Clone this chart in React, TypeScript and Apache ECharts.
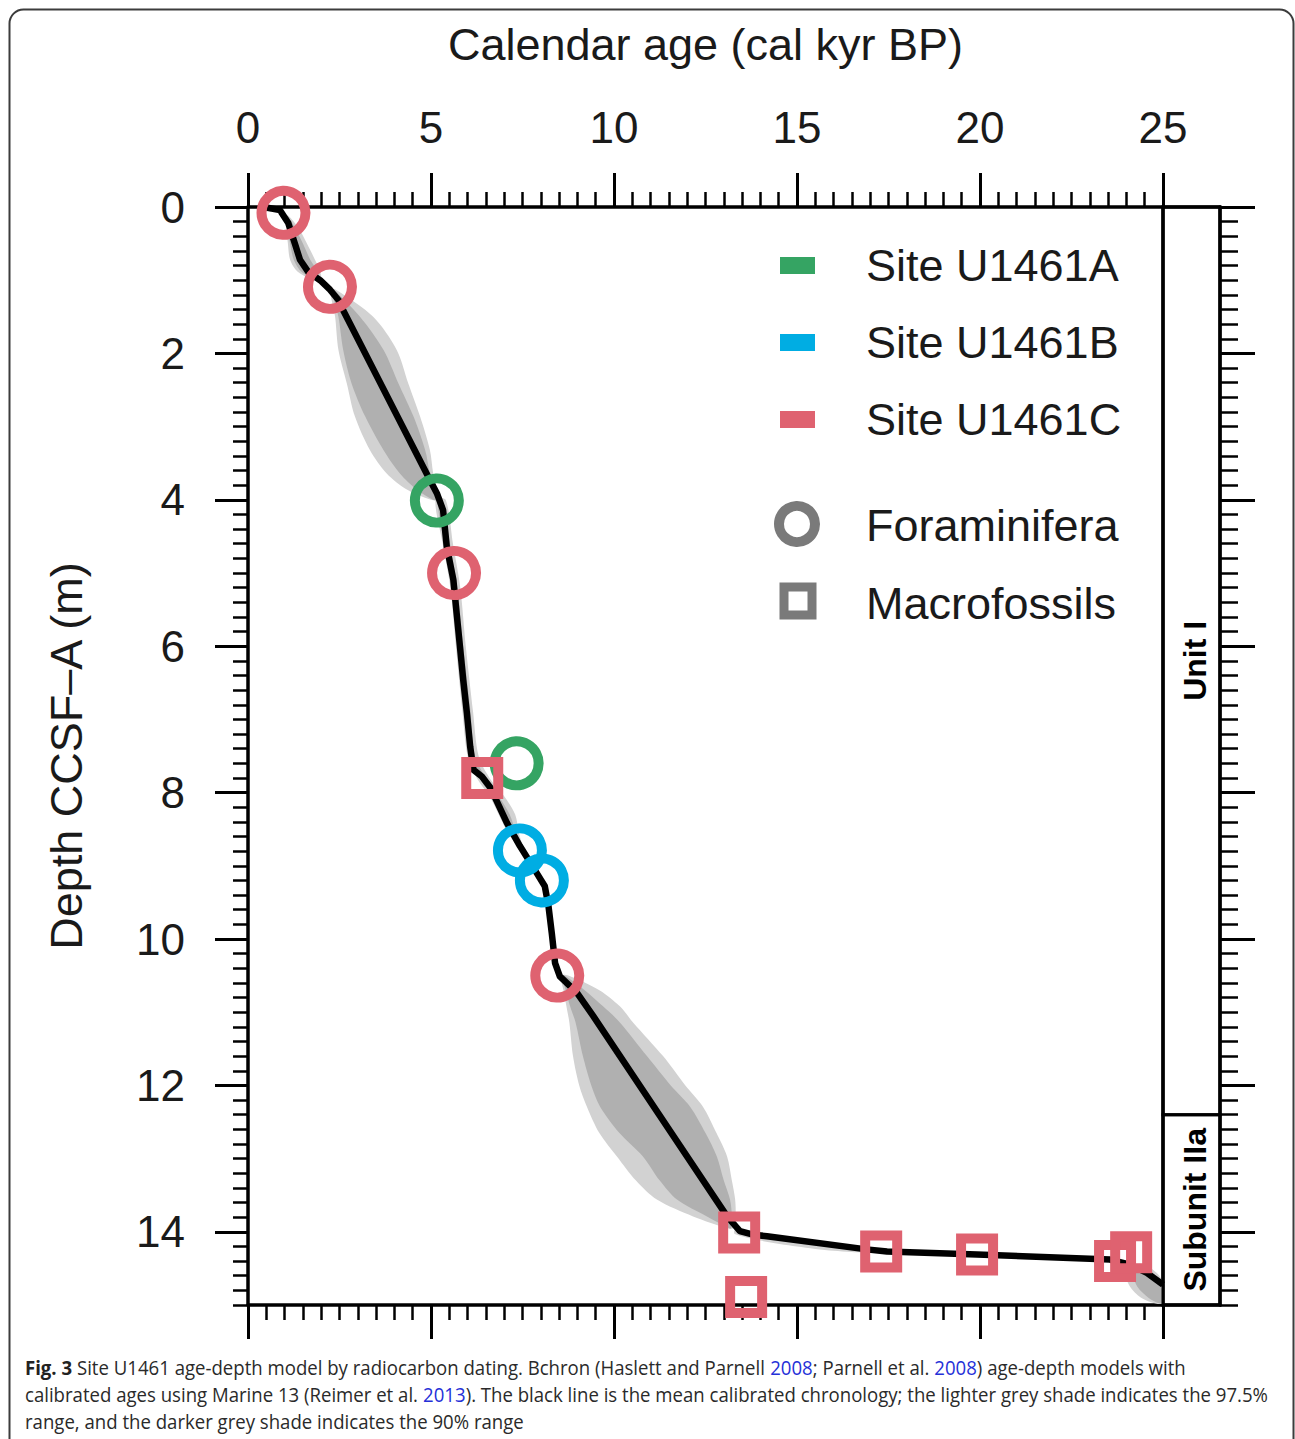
import React, { useEffect, useRef } from "react";
import * as echarts from "echarts";

// ---------- Data ----------
const ageAxisName = "Calendar age (cal kyr BP)";
const depthAxisName = "Depth CCSF–A (m)";
const depthMajorTicks = [0, 2, 4, 6, 8, 10, 12, 14];

// mean calibrated chronology (age kyr, depth m)
const meanAge = [0.42, 0.87, 1.1, 1.28, 1.42, 1.65, 1.97, 2.24, 2.47, 2.6, 4.97, 5.16, 5.33, 5.43, 5.61, 5.7, 5.79, 5.88, 5.98, 6.07, 6.16, 6.39, 6.62, 7.07, 7.43, 7.89, 8.11, 8.21, 8.3, 8.39, 8.52, 8.98, 9.43, 13.09, 13.44, 13.8, 14.18, 16.9, 17.46, 19.92, 23.55, 24.1, 24.56, 25.0];
const meanDepth = [0.0, 0.04, 0.22, 0.5, 0.72, 0.89, 1.0, 1.13, 1.27, 1.41, 3.73, 3.91, 4.14, 4.64, 5.09, 5.55, 6.0, 6.46, 6.91, 7.37, 7.69, 7.78, 7.93, 8.41, 8.73, 9.1, 9.28, 9.55, 9.92, 10.33, 10.51, 10.73, 11.05, 13.79, 13.99, 14.04, 14.06, 14.24, 14.27, 14.31, 14.38, 14.45, 14.56, 14.72];

// Foraminifera dates (circles)
const foramAge = [0.97, 2.24, 5.16, 5.63, 7.34, 7.43, 8.03, 8.45];
const foramDepth = [0.08, 1.09, 4.01, 5.0, 7.6, 8.79, 9.2, 10.5];
const foramSite = ["C", "C", "A", "C", "A", "B", "B", "C"];

// Macrofossil dates (squares)
const macroAge = [6.4, 13.42, 13.61, 17.3, 19.92, 23.69, 24.13];
const macroDepth = [7.8, 14.01, 14.89, 14.27, 14.31, 14.4, 14.28];
const macroSite = ["C", "C", "C", "C", "C", "C", "C"];

const siteKeys = ["A", "B", "C"];
const siteNames = ["Site U1461A", "Site U1461B", "Site U1461C"];
const siteColors = ["#35a463", "#00ade3", "#df6270"];
const typeNames = ["Foraminifera", "Macrofossils"];

// lithological units
const unitNames = ["Unit I", "Subunit IIa"];
const unitTop = [0, 12.4];
const unitBottom = [12.4, 15];

// uncertainty envelopes (vertical bands: depth, ages of 97.5% and 90% edges)
const bandADepth = [0.12, 0.3, 0.5, 0.72, 0.88, 1.0];
const bandALightL = [1.0, 1.05, 1.09, 1.15, 1.35, 1.8];
const bandADarkL = [1.02, 1.08, 1.15, 1.25, 1.45, 1.85];
const bandADarkR = [1.08, 1.3, 1.5, 1.7, 1.9, 1.95];
const bandALightR = [1.1, 1.4, 1.61, 1.83, 1.97, 2.0];

const bandBDepth = [1.13, 1.5, 1.95, 2.41, 2.86, 3.32, 3.64, 3.86, 4.0];
const bandBLightL = [2.25, 2.38, 2.47, 2.7, 2.92, 3.33, 3.79, 4.34, 5.0];
const bandBDarkL = [2.28, 2.47, 2.6, 2.83, 3.2, 3.7, 4.15, 4.61, 5.05];
const bandBDarkR = [2.35, 3.06, 3.7, 4.11, 4.52, 4.84, 4.97, 5.1, 5.15];
const bandBLightR = [2.4, 3.42, 4.06, 4.38, 4.7, 4.97, 5.06, 5.16, 5.2];

const bandCDepth = [4.0, 4.6, 5.2, 6.0, 6.9, 7.5, 7.8, 8.05, 8.3, 8.55, 8.75];
const bandCLightL = [5.12, 5.32, 5.53, 5.68, 5.86, 6.0, 6.25, 6.6, 6.85, 7.1, 7.4];
const bandCDarkL = [5.17, 5.37, 5.58, 5.73, 5.92, 6.06, 6.32, 6.66, 6.9, 7.16, 7.42];
const bandCDarkR = [5.3, 5.52, 5.72, 5.88, 6.08, 6.2, 6.5, 6.85, 7.15, 7.32, 7.47];
const bandCLightR = [5.4, 5.6, 5.8, 5.95, 6.15, 6.3, 6.6, 7.0, 7.3, 7.4, 7.5];

const bandDDepth = [10.5, 10.7, 10.92, 11.14, 11.6, 12.0, 12.29, 12.65, 12.97, 13.3, 13.56, 13.79, 13.95];
const bandDLightL = [8.55, 8.62, 8.7, 8.78, 8.88, 9.05, 9.26, 9.6, 10.08, 10.6, 11.17, 12.16, 13.1];
const bandDDarkL = [8.58, 8.68, 8.8, 8.95, 9.15, 9.38, 9.62, 10.15, 10.79, 11.25, 11.72, 12.54, 13.15];
const bandDDarkR = [8.65, 9.2, 9.7, 10.16, 10.9, 11.55, 12.08, 12.5, 12.81, 13.0, 13.17, 13.22, 13.2];
const bandDLightR = [8.75, 9.6, 10.16, 10.52, 11.34, 11.95, 12.43, 12.8, 13.09, 13.22, 13.31, 13.32, 13.25];

const bandEDepth = [14.45, 14.6, 14.75, 14.9, 14.98];
const bandELightL = [24.2, 24.0, 24.1, 24.4, 24.8];
const bandEDarkL = [24.3, 24.2, 24.3, 24.6, 24.9];
const bandEDarkR = [24.45, 24.7, 24.95, 25, 25];
const bandELightR = [24.5, 24.9, 25, 25, 25];

// horizontal band (age, depth edges)
const bandFAge = [13.3, 14.0, 15.0, 16.0, 17.0, 17.5];
const bandFTop = [13.98, 14.04, 14.1, 14.16, 14.22, 14.27];
const bandFBottom = [14.03, 14.12, 14.2, 14.26, 14.29, 14.28];

// caption
const captionLines = [
  "{b|Fig. 3} Site U1461 age-depth model by radiocarbon dating. Bchron (Haslett and Parnell {l|2008}; Parnell et al. {l|2008}) age-depth models with",
  "calibrated ages using Marine 13 (Reimer et al. {l|2013}). The black line is the mean calibrated chronology; the lighter grey shade indicates the 97.5%",
  "range, and the darker grey shade indicates the 90% range",
];

// ---------- Styles ----------
const FONT = "Liberation Sans, Arial, sans-serif";
const CAPTION_FONT = "Open Sans, Noto Sans, sans-serif";
const LIGHT = "#d2d2d2";
const DARK = "#b0b0b0";
const TEXT = "#1a1a1a";
const LEGEND_GREY = "#7a7a7a";

function vBand(depth: number[], left: number[], right: number[]) {
  const pts: number[][] = depth.map((d, i) => [left[i], d]);
  for (let i = depth.length - 1; i >= 0; i--) pts.push([right[i], depth[i]]);
  return pts;
}
function hBand(age: number[], top: number[], bottom: number[]) {
  const pts: number[][] = age.map((a, i) => [a, top[i]]);
  for (let i = age.length - 1; i >= 0; i--) pts.push([age[i], bottom[i]]);
  return pts;
}

const shadePolys = [
  { fill: LIGHT, pts: vBand(bandADepth, bandALightL, bandALightR) },
  { fill: LIGHT, pts: vBand(bandBDepth, bandBLightL, bandBLightR) },
  { fill: LIGHT, pts: vBand(bandCDepth, bandCLightL, bandCLightR) },
  { fill: LIGHT, pts: vBand(bandDDepth, bandDLightL, bandDLightR) },
  { fill: LIGHT, pts: vBand(bandEDepth, bandELightL, bandELightR) },
  { fill: LIGHT, pts: hBand(bandFAge, bandFTop, bandFBottom) },
  { fill: DARK, pts: vBand(bandADepth, bandADarkL, bandADarkR) },
  { fill: DARK, pts: vBand(bandBDepth, bandBDarkL, bandBDarkR) },
  { fill: DARK, pts: vBand(bandCDepth, bandCDarkL, bandCDarkR) },
  { fill: DARK, pts: vBand(bandDDepth, bandDDarkL, bandDDarkR) },
  { fill: DARK, pts: vBand(bandEDepth, bandEDarkL, bandEDarkR) },
];

const colorOf = (site: string) => siteColors[siteKeys.indexOf(site)];

const axisLine = { show: true, onZero: false, lineStyle: { color: "#000", width: 3.5 } };
const noLine = { show: false, onZero: false };
const majorTick = (len: number) => ({ show: true, inside: false, length: len, lineStyle: { color: "#000", width: 3 } });
const minorTick = (len: number) => ({ show: true, splitNumber: 10, length: len, lineStyle: { color: "#000", width: 2.5 } });
const noSplit = { splitLine: { show: false }, minorSplitLine: { show: false } };
const hiddenX = (gridIndex: number) => ({ gridIndex, type: "value", min: 0, max: 1, show: false, axisLine: noLine, ...noSplit });

const MAIN = { left: 248, top: 207, width: 915, height: 1098 };
const STRIP = { left: 1163, top: 207, width: 57, height: 1098 };

function buildOption(): any {
  const legendGraphics: any[] = [];
  siteNames.forEach((n, i) => {
    legendGraphics.push({ type: "rect", shape: { x: 780, y: 257 + i * 77, width: 35, height: 17 }, style: { fill: siteColors[i] } });
    legendGraphics.push({ type: "text", x: 866, y: 265 + i * 77, style: { text: n, fontSize: 45, fontFamily: FONT, fill: TEXT, verticalAlign: "middle", align: "left" } });
  });
  legendGraphics.push({ type: "circle", shape: { cx: 797, cy: 524, r: 18 }, style: { fill: "none", stroke: LEGEND_GREY, lineWidth: 10 } });
  legendGraphics.push({ type: "rect", shape: { x: 784, y: 587, width: 28, height: 28 }, style: { fill: "none", stroke: LEGEND_GREY, lineWidth: 9 } });
  typeNames.forEach((n, i) => {
    legendGraphics.push({ type: "text", x: 866, y: 525 + i * 78, style: { text: n, fontSize: 45, fontFamily: FONT, fill: TEXT, verticalAlign: "middle", align: "left" } });
  });

  const capRich = {
    b: { fontWeight: "bold", fontSize: 20, fontFamily: CAPTION_FONT, fill: "#222", color: "#222" },
    l: { fontSize: 20, fontFamily: CAPTION_FONT, fill: "#2530d8", color: "#2530d8" },
  };
  const captionGraphics = captionLines.map((t, i) => ({
    type: "text",
    x: 25,
    y: 1367 + i * 27,
    scaleX: 0.93,
    style: { text: t, rich: capRich, fontSize: 20, fontFamily: CAPTION_FONT, fill: "#2a2a2a", verticalAlign: "middle", align: "left" },
  }));

  return {
    animation: false,
    backgroundColor: "#fff",
    textStyle: { fontFamily: FONT },
    grid: [
      { ...MAIN, containLabel: false },
      { ...MAIN, containLabel: false },
      { ...STRIP, containLabel: false },
      { ...STRIP, containLabel: false },
    ],
    xAxis: [
      {
        gridIndex: 0, type: "value", position: "top", min: 0, max: 25, interval: 5,
        name: ageAxisName, nameLocation: "middle", nameGap: 140,
        nameTextStyle: { fontSize: 45, fontFamily: FONT, color: TEXT },
        axisLine, axisTick: majorTick(34), minorTick: minorTick(15),
        axisLabel: { fontSize: 44, margin: 58, color: TEXT, fontFamily: FONT },
        ...noSplit,
      },
      {
        gridIndex: 0, type: "value", position: "bottom", min: 0, max: 25, interval: 5,
        axisLine, axisTick: majorTick(34), minorTick: minorTick(15),
        axisLabel: { show: false }, ...noSplit,
      },
      hiddenX(1),
      { gridIndex: 2, type: "value", position: "top", min: 0, max: 1, axisLine, axisTick: { show: false }, axisLabel: { show: false }, ...noSplit },
      { gridIndex: 2, type: "value", position: "bottom", min: 0, max: 1, axisLine, axisTick: { show: false }, axisLabel: { show: false }, ...noSplit },
      hiddenX(3),
    ],
    yAxis: [
      {
        gridIndex: 0, type: "value", position: "left", inverse: true, min: 0, max: 15, interval: 2,
        name: depthAxisName, nameLocation: "middle", nameGap: 159, nameRotate: 90,
        nameTextStyle: { fontSize: 45, fontFamily: FONT, color: TEXT },
        axisLine, axisTick: { ...majorTick(33), customValues: depthMajorTicks },
        axisLabel: { fontSize: 44, margin: 63, color: TEXT, fontFamily: FONT, customValues: depthMajorTicks },
        ...noSplit,
      },
      {
        gridIndex: 0, type: "value", position: "right", inverse: true, min: 0, max: 15,
        axisLine, axisTick: { show: false }, axisLabel: { show: false }, ...noSplit,
      },
      {
        gridIndex: 1, type: "value", position: "left", inverse: true, min: 0, max: 15, interval: 0.2,
        axisLine: noLine, axisTick: { show: true, length: 15, lineStyle: { color: "#000", width: 2.5 } },
        axisLabel: { show: false }, ...noSplit,
      },
      {
        gridIndex: 2, type: "value", position: "right", inverse: true, min: 0, max: 15, interval: 0.2,
        axisLine, axisTick: { show: true, length: 18, lineStyle: { color: "#000", width: 2.5 } },
        axisLabel: { show: false }, ...noSplit,
      },
      {
        gridIndex: 3, type: "value", position: "right", inverse: true, min: 0, max: 15, interval: 2,
        axisLine: noLine, axisTick: { ...majorTick(35), customValues: depthMajorTicks },
        axisLabel: { show: false }, ...noSplit,
      },
    ],
    graphic: [
      { type: "rect", z: -10, shape: { x: 9.5, y: 9.5, width: 1284, height: 1460, r: 14 }, style: { fill: "none", stroke: "#3c3c3c", lineWidth: 2 } },
      ...legendGraphics,
      ...captionGraphics,
    ],
    series: [
      {
        type: "custom", name: "shades", xAxisIndex: 0, yAxisIndex: 0, z: 1, silent: true, clip: true,
        data: shadePolys.map((p) => [p.pts[0][0], p.pts[0][1]]),
        renderItem: (params: any, api: any) => {
          const poly = shadePolys[params.dataIndex];
          return {
            type: "polygon",
            shape: { points: poly.pts.map((pt) => api.coord(pt)), smooth: 0.3 },
            style: { fill: poly.fill },
          };
        },
      },
      {
        type: "line", name: "Mean chronology", xAxisIndex: 0, yAxisIndex: 0, z: 3,
        showSymbol: false, symbol: "none", silent: true,
        lineStyle: { color: "#000", width: 6.5, join: "round" },
        data: meanAge.map((a, i) => [a, meanDepth[i]]),
      },
      {
        type: "scatter", name: typeNames[0], xAxisIndex: 0, yAxisIndex: 0, z: 4, clip: false,
        symbol: "circle", symbolSize: 44,
        itemStyle: { color: "rgba(0,0,0,0)", borderWidth: 10, opacity: 1 },
        data: foramAge.map((a, i) => ({ value: [a, foramDepth[i]], itemStyle: { borderColor: colorOf(foramSite[i]), opacity: 1 } })),
      },
      {
        type: "scatter", name: typeNames[1], xAxisIndex: 0, yAxisIndex: 0, z: 5, clip: false,
        symbol: "rect", symbolSize: 32,
        itemStyle: { color: "rgba(0,0,0,0)", borderWidth: 10, opacity: 1 },
        data: macroAge.map((a, i) => ({ value: [a, macroDepth[i]], itemStyle: { borderColor: colorOf(macroSite[i]), opacity: 1 } })),
      },
      {
        type: "custom", name: "units", xAxisIndex: 3, yAxisIndex: 3, z: 2, silent: true,
        data: unitNames.map((n, i) => [0, unitTop[i], 1, unitBottom[i]]),
        renderItem: (params: any, api: any) => {
          const i = params.dataIndex;
          const p0 = api.coord([0, unitTop[i]]);
          const p1 = api.coord([1, unitBottom[i]]);
          return {
            type: "group",
            children: [
              { type: "rect", shape: { x: p0[0], y: p0[1], width: p1[0] - p0[0], height: p1[1] - p0[1] }, style: { fill: "none", stroke: "#000", lineWidth: 3 } },
              {
                type: "text", x: (p0[0] + p1[0]) / 2 + 3, y: (p0[1] + p1[1]) / 2, rotation: Math.PI / 2,
                style: { text: unitNames[i], fontSize: 32, fontWeight: "bold", fontFamily: FONT, fill: "#000", align: "center", verticalAlign: "middle" },
              },
            ],
          };
        },
      },
    ],
  };
}

export default function App() {
  const ref = useRef<HTMLDivElement>(null);
  useEffect(() => {
    document.body.style.margin = "0";
    const chart = echarts.init(ref.current!, null, { renderer: "svg" });
    chart.setOption(buildOption());
    return () => chart.dispose();
  }, []);
  return <div ref={ref} style={{ width: 1295, height: 1439 }} />;
}
